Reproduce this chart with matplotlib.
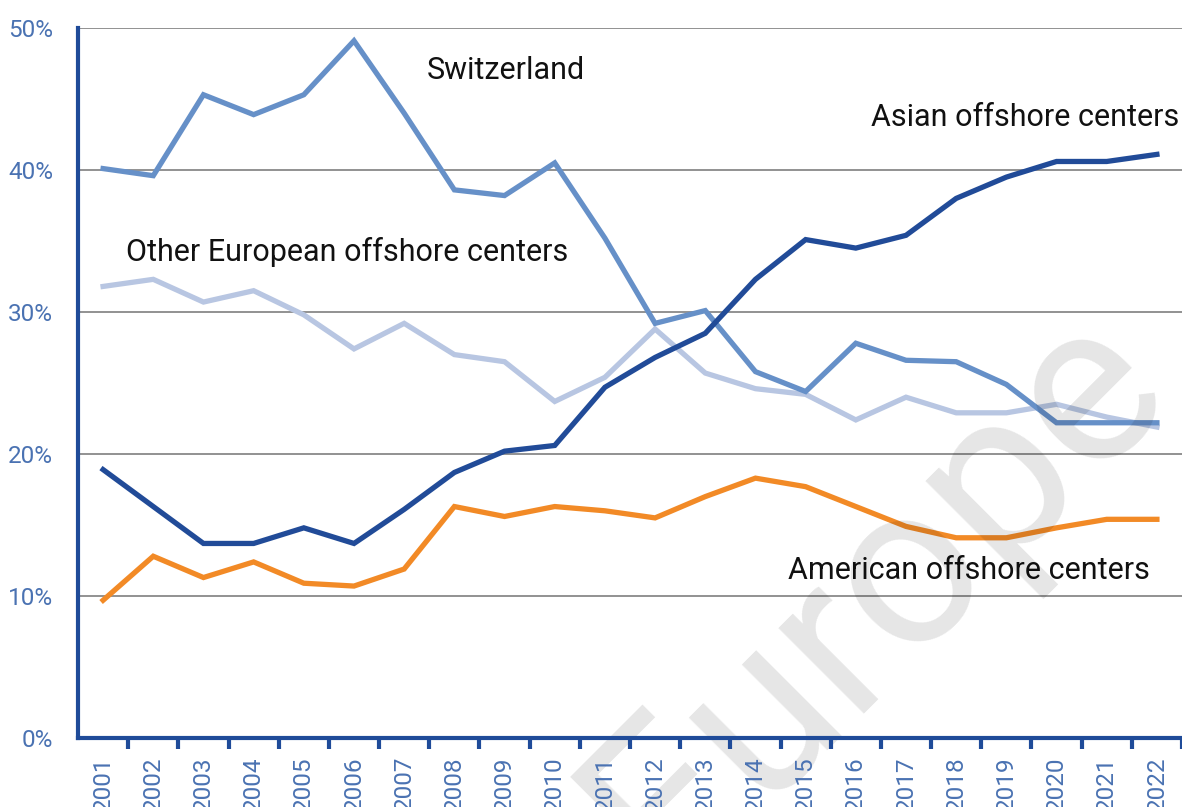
"""Offshore wealth shares by destination, 2001-2022."""

import matplotlib
matplotlib.use("Agg")
import matplotlib.pyplot as plt
from matplotlib.ticker import FixedLocator

years = [str(y) for y in range(2001, 2023)]

switzerland = [40.1, 39.6, 45.3, 43.9, 45.3, 49.1, 44.0, 38.6, 38.2, 40.5, 35.2,
               29.2, 30.1, 25.8, 24.4, 27.8, 26.6, 26.5, 24.9, 22.2, 22.2, 22.2]
other_europe = [31.8, 32.3, 30.7, 31.5, 29.8, 27.4, 29.2, 27.0, 26.5, 23.7, 25.4,
                28.8, 25.7, 24.6, 24.2, 22.4, 24.0, 22.9, 22.9, 23.5, 22.6, 21.9]
asia = [18.9, 16.3, 13.7, 13.7, 14.8, 13.7, 16.1, 18.7, 20.2, 20.6, 24.7,
        26.8, 28.5, 32.3, 35.1, 34.5, 35.4, 38.0, 39.5, 40.6, 40.6, 41.1]
america = [9.7, 12.8, 11.3, 12.4, 10.9, 10.7, 11.9, 16.3, 15.6, 16.3, 16.0,
           15.5, 17.0, 18.3, 17.7, 16.3, 14.9, 14.1, 14.1, 14.8, 15.4, 15.4]

y_ticks = [0, 10, 20, 30, 40, 50]

AXIS_BLUE = "#1f4b99"
TICK_BLUE = "#4a72b2"

plt.rcParams["font.family"] = ["Roboto", "DejaVu Sans"]

fig = plt.figure(figsize=(11.82, 8.07), dpi=100)
ax = fig.add_axes([78 / 1182, 69 / 807, 1 - 78 / 1182, 710 / 807])

x = list(range(len(years)))
ax.plot(x, other_europe, color="#b8c6e2", lw=3.8, solid_joinstyle="miter", zorder=2)
ax.plot(x, switzerland, color="#6690c8", lw=3.8, solid_joinstyle="miter", zorder=2.1)
ax.plot(x, america, color="#f28a26", lw=3.8, solid_joinstyle="miter", zorder=2.2)
ax.plot(x, asia, color="#214b98", lw=3.8, solid_joinstyle="miter", zorder=2.3)

ax.set_xlim(-0.5, len(years) - 0.5)
ax.set_ylim(0, 50)

ax.set_yticks(y_ticks)
ax.set_yticklabels([f"{t}%" for t in y_ticks])
ax.yaxis.grid(True, color="#7f7f7f", lw=1.2)
ax.set_axisbelow(True)
ax.tick_params(axis="y", length=0, pad=18, labelsize=17.5, labelcolor=TICK_BLUE)

ax.set_xticks(x)
ax.set_xticklabels(years, rotation=90, va="top", ha="center")
ax.xaxis.set_minor_locator(FixedLocator([i + 0.5 for i in range(len(years))]))
ax.tick_params(axis="x", which="major", length=0, pad=13, labelsize=17.5,
               labelcolor=TICK_BLUE)
ax.tick_params(axis="x", which="minor", length=8, width=3, color=AXIS_BLUE)

for side in ["top", "right"]:
    ax.spines[side].set_visible(False)
for side in ["left", "bottom"]:
    ax.spines[side].set_color(AXIS_BLUE)
    ax.spines[side].set_linewidth(3)
    ax.spines[side].set_zorder(6)
ax.xaxis.set_zorder(6)

label_kw = dict(fontsize=22, color="#111111", va="center")
ax.text(6.45, 47.0, "Switzerland", ha="left", **label_kw)
ax.text(21.45, 43.7, "Asian offshore centers", ha="right", **label_kw)
ax.text(0.45, 34.2, "Other European offshore centers", ha="left", **label_kw)
ax.text(20.85, 11.8, "American offshore centers", ha="right", **label_kw)

# watermark
ax.text(0.722, 0.201, "Europe", transform=ax.transAxes, fontsize=165,
        color="black", alpha=0.1, rotation=45,
        ha="center", va="center", zorder=3, clip_on=False)

fig.savefig("out.png", dpi=100)
